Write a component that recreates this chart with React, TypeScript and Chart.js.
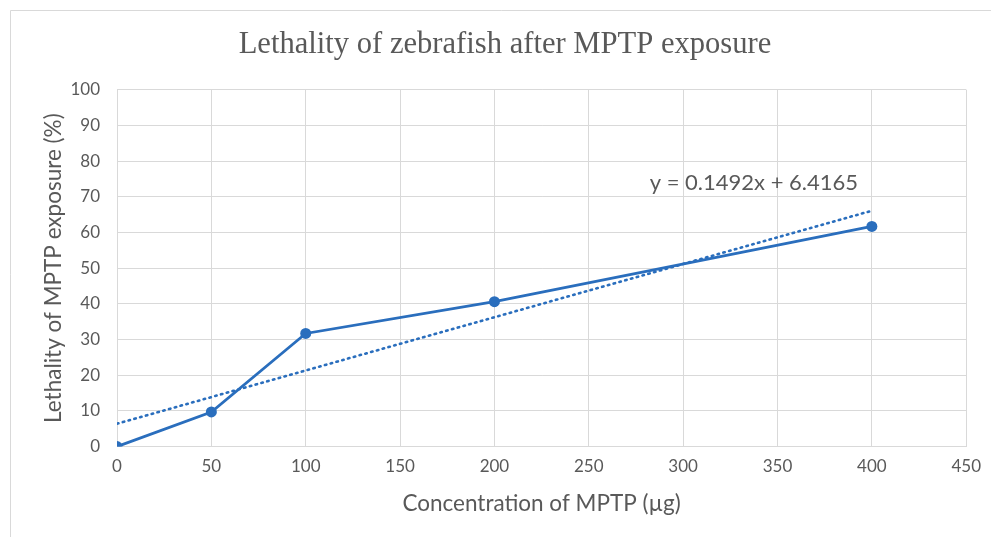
import React, { useEffect, useRef } from 'react';
import { Chart, registerables } from 'chart.js';

Chart.register(...registerables);

const chartTitle = 'Lethality of zebrafish after MPTP exposure';
const xTitle = 'Concentration of MPTP (µg)';
const yTitle = 'Lethality of MPTP exposure (%)';

const concentrations = [0, 50, 100, 200, 400];
const lethality = [0, 9.7, 31.7, 40.6, 61.7];

const trendSlope = 0.1492;
const trendIntercept = 6.4165;
const trendXs = [0, 400];
const trendLabel = 'y = 0.1492x + 6.4165';
const trendLabelAt = { x: 337.5, y: 74.0 };

const xMin = 0, xMax = 450, xStep = 50;
const yMin = 0, yMax = 100, yStep = 10;

const BLUE = '#2a6ebd';
const TEXT = '#595959';
const GRID = '#d9d9d9';
const SANS = 'Lato, "Liberation Sans", sans-serif';

const framePlugin = {
  id: 'frame',
  beforeDraw(chart: any) {
    const { ctx } = chart;
    ctx.save();
    ctx.fillStyle = '#ffffff';
    ctx.fillRect(0, 0, chart.width, chart.height);
    ctx.strokeStyle = '#d9d9d9';
    ctx.lineWidth = 1;
    ctx.beginPath();
    ctx.moveTo(10.5, chart.height + 5);
    ctx.lineTo(10.5, 10.5);
    ctx.lineTo(chart.width + 5, 10.5);
    ctx.stroke();
    ctx.restore();
  },
  afterDatasetsDraw(chart: any) {
    const { ctx, scales } = chart;
    const px = scales.x.getPixelForValue(trendLabelAt.x);
    const py = scales.y.getPixelForValue(trendLabelAt.y);
    ctx.save();
    ctx.fillStyle = TEXT;
    ctx.font = '22px ' + SANS;
    ctx.textAlign = 'center';
    ctx.textBaseline = 'middle';
    ctx.fillText(trendLabel, px, py);
    ctx.restore();
  },
};

export default function App() {
  const ref = useRef<HTMLCanvasElement | null>(null);

  useEffect(() => {
    document.body.style.margin = '0';
    const canvas = ref.current;
    if (!canvas) return;
    const chart = new Chart(canvas, {
      type: 'scatter',
      data: {
        datasets: [
          {
            label: 'Lethality',
            data: concentrations.map((x, i) => ({ x, y: lethality[i] })),
            showLine: true,
            borderColor: BLUE,
            backgroundColor: BLUE,
            borderWidth: 2.8,
            pointRadius: 5.5,
            pointHoverRadius: 5.5,
            pointBorderWidth: 0,
            order: 1,
          },
          {
            label: 'Trend',
            data: trendXs.map((x) => ({ x, y: trendSlope * x + trendIntercept })),
            showLine: true,
            borderColor: BLUE,
            backgroundColor: BLUE,
            borderWidth: 2.6,
            borderDash: [1.5, 4.5],
            borderCapStyle: 'round',
            pointRadius: 0,
            order: 2,
          },
        ],
      },
      options: {
        responsive: false,
        animation: false,
        events: [],
        layout: { padding: { left: 31, right: 12, top: 8, bottom: 20 } },
        plugins: {
          legend: { display: false },
          tooltip: { enabled: false },
          title: {
            display: true,
            text: chartTitle,
            color: TEXT,
            font: { family: '"Liberation Serif", "DejaVu Serif", serif', size: 30.6, weight: 'normal' },
            padding: { top: 19, bottom: 26 },
          },
        },
        scales: {
          x: {
            type: 'linear',
            min: xMin,
            max: xMax,
            ticks: { stepSize: xStep, color: TEXT, font: { family: SANS, size: 17 }, padding: 10 },
            grid: { color: GRID, lineWidth: 1, drawTicks: false },
            border: { color: GRID, width: 1 },
            title: { display: true, text: xTitle, color: TEXT, font: { family: SANS, size: 22.5 }, padding: { top: 3, bottom: 0 } },
          },
          y: {
            type: 'linear',
            min: yMin,
            max: yMax,
            afterFit: (scale: any) => { scale.width = 86; },
            ticks: { stepSize: yStep, color: TEXT, font: { family: SANS, size: 17 }, padding: 17 },
            grid: { color: GRID, lineWidth: 1, drawTicks: false },
            border: { color: GRID, width: 1 },
            title: { display: true, text: yTitle, color: TEXT, font: { family: SANS, size: 22.5 }, padding: { top: 9.5, bottom: 4 } },
          },
        },
      },
      plugins: [framePlugin],
    } as any);
    return () => chart.destroy();
  }, []);

  return (
    <div style={{ width: 991, height: 537 }}>
      <canvas ref={ref} width={991} height={537} style={{ display: 'block' }} />
    </div>
  );
}
